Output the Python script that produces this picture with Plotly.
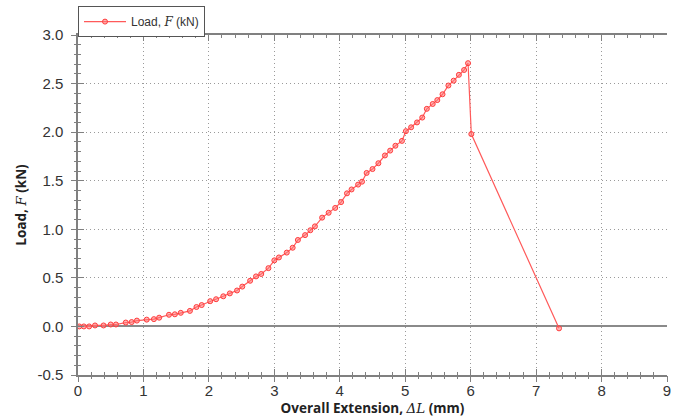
import plotly.graph_objects as go

# Load-extension record of the tensile test
extension_mm = [
    0.02, 0.09, 0.17, 0.26, 0.39, 0.50, 0.58, 0.73, 0.82, 0.90,
    1.05, 1.16, 1.24, 1.39, 1.48, 1.57, 1.71, 1.81, 1.89, 2.02,
    2.11, 2.22, 2.32, 2.43, 2.51, 2.63, 2.72, 2.80, 2.91, 3.00,
    3.07, 3.19, 3.28, 3.36, 3.47, 3.55, 3.62, 3.73, 3.83, 3.93,
    4.02, 4.11, 4.18, 4.28, 4.34, 4.41, 4.50, 4.59, 4.69, 4.77,
    4.85, 4.95, 5.01, 5.09, 5.18, 5.26, 5.33, 5.42, 5.49, 5.57,
    5.66, 5.74, 5.82, 5.90, 5.96, 6.01, 7.35,
]
load_kn = [
    0.00, 0.00, 0.00, 0.01, 0.01, 0.02, 0.02, 0.04, 0.045, 0.06,
    0.07, 0.075, 0.09, 0.12, 0.125, 0.14, 0.16, 0.20, 0.22, 0.26,
    0.28, 0.31, 0.34, 0.37, 0.41, 0.47, 0.515, 0.54, 0.60, 0.68,
    0.71, 0.76, 0.81, 0.89, 0.94, 0.99, 1.03, 1.12, 1.17, 1.22,
    1.28, 1.37, 1.41, 1.46, 1.49, 1.58, 1.62, 1.68, 1.76, 1.81,
    1.86, 1.91, 2.01, 2.05, 2.10, 2.15, 2.24, 2.29, 2.33, 2.39,
    2.48, 2.53, 2.59, 2.64, 2.71, 1.98, -0.02,
]

x_range = [0, 9]
y_range = [-0.5, 3.0]
y_ticks = [-0.5, 0.0, 0.5, 1.0, 1.5, 2.0, 2.5, 3.0]
y_tick_labels = ["-0.5", "0.0", "0.5", "1.0", "1.5", "2.0", "2.5", "3.0"]

serif_i = "<span style=\"font-family:'DejaVu Serif','Liberation Serif',serif;font-style:italic;font-weight:normal\">{}</span>"
series_name = "Load, " + serif_i.format("F") + " (kN)"
y_title = "Load, " + serif_i.format("F") + " (kN)"
x_title = "Overall Extension, " + serif_i.format("ΔL") + " (mm)"

AXIS = "#808080"
GRID = "#9a9a9a"
TICKFONT = dict(family="Liberation Sans, Arial, sans-serif", size=15, color="#333333")
TITLEFONT = dict(family="Open Sans, sans-serif", size=13.5, color="#222222", weight="bold")

fig = go.Figure()
fig.add_trace(go.Scatter(
    x=extension_mm, y=load_kn, mode="lines+markers", name=series_name,
    line=dict(color="#ff5a5a", width=1.2),
    marker=dict(symbol="circle", size=5, color="rgba(255,120,120,0.55)",
                line=dict(color="#ff3c3c", width=1)),
))
# invisible trace carrying the outer tick axes
fig.add_trace(go.Scatter(x=[None], y=[None], xaxis="x2", yaxis="y2",
                         showlegend=False, hoverinfo="skip"))

fig.update_layout(
    width=682, height=419,
    margin=dict(l=78, r=15, t=35, b=44, autoexpand=False),
    paper_bgcolor="white", plot_bgcolor="white",
    showlegend=True,
    legend=dict(
        x=0, y=1.085, xanchor="left", yanchor="top",
        bgcolor="white", bordercolor="#555555", borderwidth=1,
        font=dict(family="Liberation Sans, Arial, sans-serif", size=12, color="#333333"),
        itemwidth=42, tracegroupgap=0,
    ),
    xaxis=dict(
        range=x_range, dtick=1, tick0=0, automargin=False,
        showgrid=True, gridcolor=GRID, griddash="1px,3px", gridwidth=1,
        zeroline=False,
        showline=True, linecolor=AXIS, linewidth=1.5, mirror="ticks",
        ticks="inside", ticklen=6, tickcolor=AXIS, tickwidth=1,
        minor=dict(dtick=0.2, ticks="inside", ticklen=3, tickcolor=AXIS, showgrid=False),
        tickfont=TICKFONT, ticklabelstandoff=1,
        title=dict(text=x_title, font=TITLEFONT, standoff=0),
    ),
    yaxis=dict(
        range=y_range, tickvals=y_ticks, ticktext=y_tick_labels, automargin=False,
        showgrid=True, gridcolor=GRID, griddash="1px,3px", gridwidth=1,
        zeroline=True, zerolinecolor="#8a8a8a", zerolinewidth=2,
        showline=True, linecolor=AXIS, linewidth=1.5, mirror=False,
        ticks="inside", ticklen=6, tickcolor=AXIS, tickwidth=1,
        minor=dict(dtick=0.1, tick0=0, ticks="inside", ticklen=3, tickcolor=AXIS, showgrid=False),
        tickfont=TICKFONT, ticklabelstandoff=10,
        title=dict(text=y_title, font=TITLEFONT, standoff=8),
    ),
    xaxis2=dict(
        overlaying="x", anchor="y2", side="bottom", range=x_range, dtick=1, tick0=0,
        automargin=False,
        showgrid=False, zeroline=False, showline=False, showticklabels=False,
        ticks="outside", ticklen=6, tickcolor=AXIS, tickwidth=1,
        minor=dict(dtick=0.2, ticks="outside", ticklen=3, tickcolor=AXIS, showgrid=False),
    ),
    yaxis2=dict(
        overlaying="y", anchor="x2", side="left", range=y_range, dtick=0.5, tick0=0,
        automargin=False,
        showgrid=False, zeroline=False, showline=False, showticklabels=False,
        ticks="outside", ticklen=6, tickcolor=AXIS, tickwidth=1,
        minor=dict(dtick=0.1, tick0=0, ticks="outside", ticklen=3, tickcolor=AXIS, showgrid=False),
    ),
)

fig.write_html("out.html")
